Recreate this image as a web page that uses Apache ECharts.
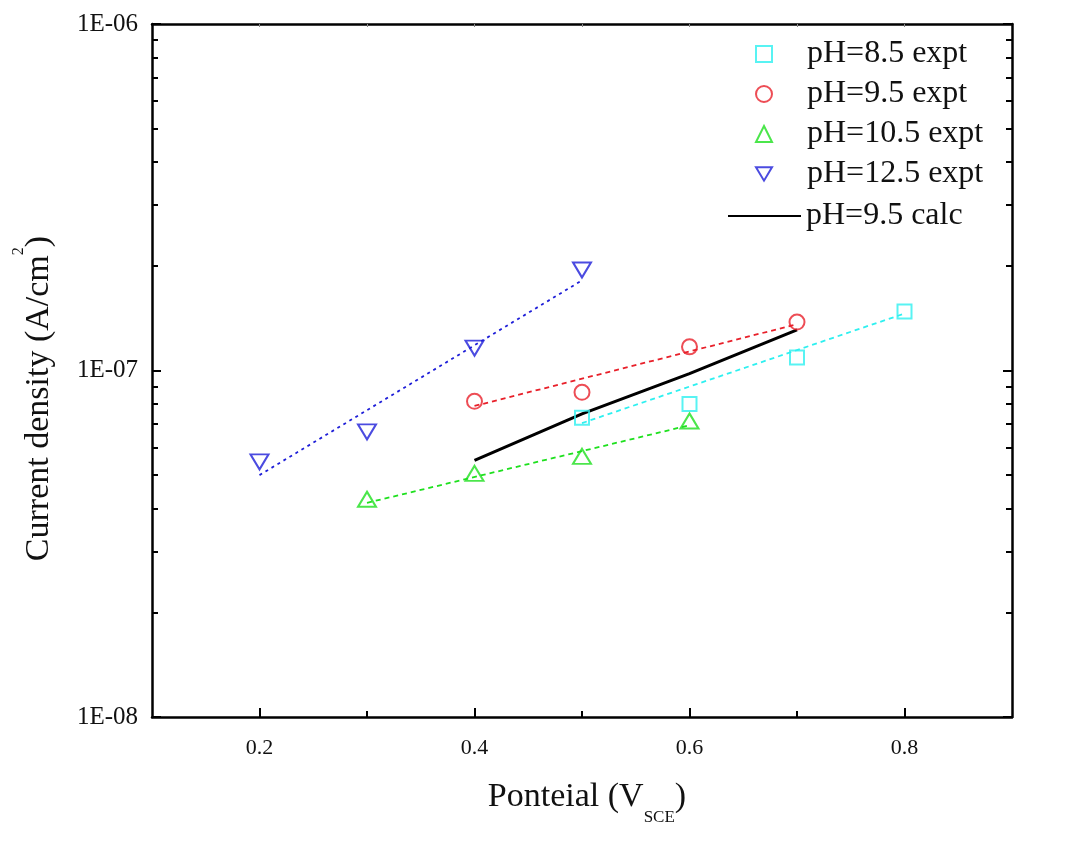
<!DOCTYPE html>
<html><head><meta charset="utf-8">
<script src="https://cdn.jsdelivr.net/npm/echarts@6/dist/echarts.min.js"></script>
<style>html,body{margin:0;padding:0;background:#fff}#c{width:1074px;height:846px}</style>
</head><body><div id="c"></div>
<script>
// ---- data ----
const seriesNames = ['pH=8.5 expt', 'pH=9.5 expt', 'pH=10.5 expt', 'pH=12.5 expt', 'pH=9.5 calc'];
const pH85X = [0.5, 0.6, 0.7, 0.8];
const pH85Y = [7.3e-8, 8.0e-8, 1.09e-7, 1.48e-7];
const pH95X = [0.4, 0.5, 0.6, 0.7];
const pH95Y = [8.15e-8, 8.65e-8, 1.17e-7, 1.38e-7];
const pH105X = [0.3, 0.4, 0.5, 0.6];
const pH105Y = [4.25e-8, 5.05e-8, 5.65e-8, 7.15e-8];
const pH125X = [0.2, 0.3, 0.4, 0.5];
const pH125Y = [5.45e-8, 6.65e-8, 1.16e-7, 1.95e-7];
const calcX = [0.4, 0.5, 0.6, 0.7];
const calcY = [5.5e-8, 7.5e-8, 9.8e-8, 1.31e-7];
// dashed fit lines (end points)
const fit85X = [0.5, 0.8];  const fit85Y = [7.05e-8, 1.46e-7];
const fit95X = [0.4, 0.7];  const fit95Y = [7.9e-8, 1.36e-7];
const fit105X = [0.3, 0.6]; const fit105Y = [4.15e-8, 6.95e-8];
const fit125X = [0.2, 0.5]; const fit125Y = [4.99e-8, 1.82e-7];
// ticks
const xTickLabels = [0.2, 0.4, 0.6, 0.8];
const xMinorTicks = [0.3, 0.5, 0.7];
const xAllTicks = [0.2, 0.3, 0.4, 0.5, 0.6, 0.7, 0.8];
const yMajorTicks = [1e-8, 1e-7, 1e-6];
const yTickLabels = ['1E-08', '1E-07', '1E-06'];
const yMinorTicks = [2e-8,3e-8,4e-8,5e-8,6e-8,7e-8,8e-8,9e-8,2e-7,3e-7,4e-7,5e-7,6e-7,7e-7,8e-7,9e-7];

const colors = ['#2ef0f0', '#e8202a', '#1ee01e', '#1e1ed8', '#000000'];
const zip = (xs, ys) => xs.map((x, i) => [x, ys[i]]);
const FONT = 'Liberation Serif';

const baseX = {min: 0.1, max: 0.9, interval: 0.1, type: 'value', splitLine: {show: false}};
const baseY = {type: 'log', logBase: 10, min: 1e-8, max: 1e-6, splitLine: {show: false}};
const axisLine = {show: true, onZero: false, lineStyle: {color: '#000', width: 2.5}};
const legendText = {fontFamily: FONT, fontSize: 32, color: '#111', lineHeight: 29};

const option = {
  animation: false,
  backgroundColor: '#fff',
  grid: {left: 152, right: 62, top: 24, bottom: 129},
  xAxis: [
    Object.assign({}, baseX, {
      position: 'bottom', axisLine,
      axisTick: {show: true, inside: true, length: 9, customValues: xTickLabels, lineStyle: {color: '#000', width: 2}},
      axisLabel: {customValues: xTickLabels, color: '#111', fontFamily: FONT, fontSize: 22, margin: 20,
        formatter: v => String(v)},
      name: '{m|Ponteial (V}{s|SCE}{m|)}', nameLocation: 'middle', nameGap: 63,
      nameTextStyle: {padding: [0, 0, 0, 10], rich: {
        m: {fontFamily: FONT, fontSize: 34, color: '#111', lineHeight: 38, verticalAlign: 'top'},
        s: {fontFamily: FONT, fontSize: 17, color: '#111', lineHeight: 76, verticalAlign: 'middle'}
      }}
    }),
    Object.assign({}, baseX, {
      position: 'bottom', axisLine: {show: false},
      axisTick: {show: true, inside: true, length: 6, customValues: xMinorTicks, lineStyle: {color: '#000', width: 2}},
      axisLabel: {show: false}
    }),
    Object.assign({}, baseX, {
      position: 'top', axisLine,
      axisTick: {show: true, inside: true, length: 3, customValues: xAllTicks, lineStyle: {color: '#888', width: 1}},
      axisLabel: {show: false}
    })
  ],
  yAxis: [
    Object.assign({}, baseY, {
      position: 'left', axisLine,
      axisTick: {show: true, inside: true, length: 9, customValues: yMajorTicks, lineStyle: {color: '#000', width: 2}},
      axisLabel: {customValues: yMajorTicks, color: '#111', fontFamily: FONT, fontSize: 25, margin: 14,
        formatter: v => yTickLabels[yMajorTicks.findIndex(t => Math.abs(Math.log10(t) - Math.log10(v)) < 1e-6)]},
      name: '{m|Current density (A/cm}{p|2}{m|)}', nameLocation: 'middle', nameRotate: 90, nameGap: 96,
      nameTextStyle: {padding: [0, 56, 0, 0], rich: {
        m: {fontFamily: FONT, fontSize: 34, color: '#111', lineHeight: 38, verticalAlign: 'bottom'},
        p: {fontFamily: FONT, fontSize: 16, color: '#111', lineHeight: 74, verticalAlign: 'middle'}
      }}
    }),
    Object.assign({}, baseY, {
      position: 'left', axisLine: {show: false},
      axisTick: {show: true, inside: true, length: 6, customValues: yMinorTicks, lineStyle: {color: '#000', width: 2}},
      axisLabel: {show: false}
    }),
    Object.assign({}, baseY, {
      position: 'right', axisLine,
      axisTick: {show: true, inside: true, length: 9, customValues: yMajorTicks, lineStyle: {color: '#000', width: 2}},
      axisLabel: {show: false}
    }),
    Object.assign({}, baseY, {
      position: 'right', axisLine: {show: false},
      axisTick: {show: true, inside: true, length: 6, customValues: yMinorTicks, lineStyle: {color: '#000', width: 2}},
      axisLabel: {show: false}
    })
  ],
  legend: [
    {
      data: [
        {name: seriesNames[0]},
        {name: seriesNames[1]},
        {name: seriesNames[2]},
        {name: seriesNames[3], icon: 'path://M0,0 L18,0 L9,15 Z'}
      ],
      orient: 'vertical', left: 750, top: 33,
      itemWidth: 16, itemHeight: 16, itemGap: 8,
      textStyle: Object.assign({padding: [0, 0, 0, 30]}, legendText)
    },
    {
      data: [seriesNames[4]], orient: 'vertical', left: 722, top: 195,
      itemWidth: 73, itemHeight: 16,
      textStyle: legendText
    }
  ],
  series: [
    {name: 'fit1', type: 'line', data: zip(fit85X, fit85Y), symbol: 'none', lineStyle: {color: colors[0], width: 1.8, type: [5, 4]}, z: 1},
    {name: 'fit2', type: 'line', data: zip(fit95X, fit95Y), symbol: 'none', lineStyle: {color: colors[1], width: 1.8, type: [5, 4]}, z: 1},
    {name: 'fit3', type: 'line', data: zip(fit105X, fit105Y), symbol: 'none', lineStyle: {color: colors[2], width: 1.8, type: [5, 4]}, z: 1},
    {name: 'fit4', type: 'line', data: zip(fit125X, fit125Y), symbol: 'none', lineStyle: {color: colors[3], width: 1.8, type: [3, 4]}, z: 1},
    {name: seriesNames[4], type: 'line', data: zip(calcX, calcY), symbol: 'none', lineStyle: {color: '#000', width: 3},
      itemStyle: {color: 'rgba(0,0,0,0)', borderWidth: 0}, z: 2},
    {name: seriesNames[0], type: 'scatter', data: zip(pH85X, pH85Y), symbol: 'rect', symbolSize: 14,
      itemStyle: {color: 'rgba(255,255,255,0)', borderColor: colors[0], borderWidth: 2}, z: 3},
    {name: seriesNames[1], type: 'scatter', data: zip(pH95X, pH95Y), symbol: 'circle', symbolSize: 15,
      itemStyle: {color: 'rgba(255,255,255,0)', borderColor: colors[1], borderWidth: 2}, z: 3},
    {name: seriesNames[2], type: 'scatter', data: zip(pH105X, pH105Y), symbol: 'triangle', symbolSize: [18, 15],
      itemStyle: {color: 'rgba(255,255,255,0)', borderColor: colors[2], borderWidth: 2}, z: 3},
    {name: seriesNames[3], type: 'scatter', data: zip(pH125X, pH125Y), symbol: 'triangle', symbolRotate: 180, symbolSize: [18, 15],
      itemStyle: {color: 'rgba(255,255,255,0)', borderColor: colors[3], borderWidth: 2}, z: 3}
  ]
};
const chart = echarts.init(document.getElementById('c'), null, {renderer: 'canvas'});
chart.setOption(option);
</script></body></html>
